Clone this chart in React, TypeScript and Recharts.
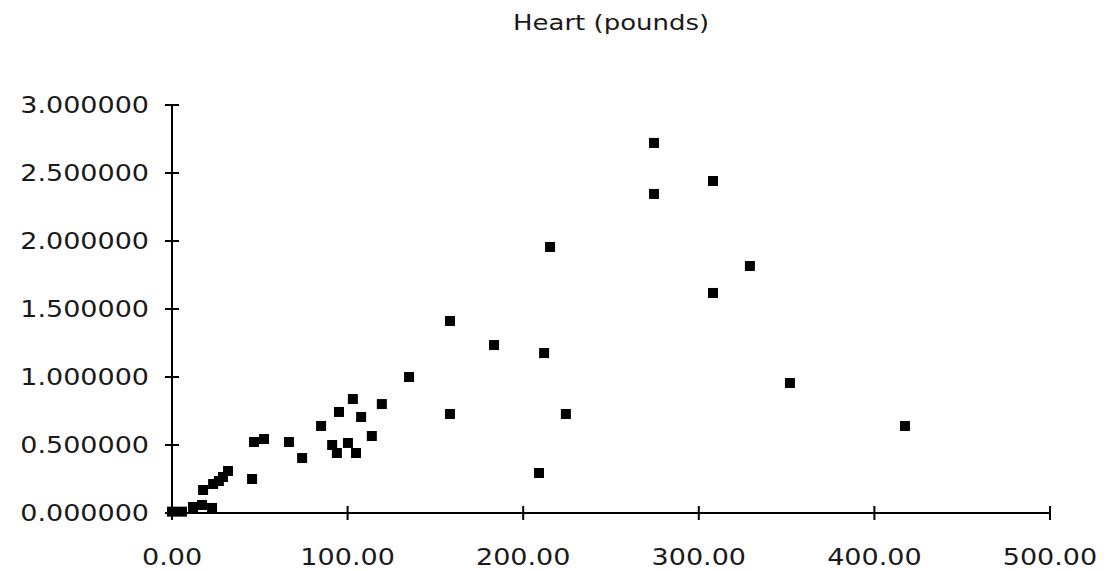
import React from "react";
import { ScatterChart, Scatter, XAxis, YAxis } from "recharts";

// heart weight (x) vs. ratio (y)
const heartX = [
  274.5, 274.5, 308.1, 215.3, 308.1, 329.1, 158.3, 183.4, 211.9, 135.0,
  351.9, 158.3, 224.3, 209.0, 417.4, 119.5, 103.0, 95.1, 107.7, 84.9,
  113.8, 66.6, 74.1, 93.9, 104.8, 46.7, 52.4, 45.6, 31.9, 17.7,
  91.2, 100.2, 23.4, 26.7, 29.0, 0.0, 5.7, 12.0, 17.1, 22.8,
];
const heartY = [
  2.721, 2.346, 2.441, 1.956, 1.618, 1.816, 1.412, 1.235, 1.176, 1.0,
  0.956, 0.728, 0.728, 0.294, 0.64, 0.801, 0.838, 0.743, 0.706, 0.64,
  0.566, 0.522, 0.404, 0.441, 0.441, 0.522, 0.544, 0.25, 0.309, 0.169,
  0.5, 0.515, 0.213, 0.235, 0.265, 0.01, 0.01, 0.044, 0.059, 0.037,
];
const xTicks = [0, 100, 200, 300, 400, 500];
const yTicks = [0, 0.5, 1, 1.5, 2, 2.5, 3];

const title = "Heart (pounds)";

const data = heartX.map((x, i) => ({ x, y: heartY[i] }));

const FONT = "'DejaVu Sans', Verdana, sans-serif";

const YTick = (props: any) => {
  const { x, y, payload } = props;
  return (
    <g>
      <line x1={x - 7} x2={x + 7} y1={y} y2={y} stroke="#000" strokeWidth={2} />
      <text
        transform={`translate(${x - 23},${y + 8}) scale(1.2,1)`}
        textAnchor="end"
        fontSize={22.5}
        fill="#1a1a1a"
        fontFamily={FONT}
      >
        {Number(payload.value).toFixed(6)}
      </text>
    </g>
  );
};

const XTick = (props: any) => {
  const { x, y, payload } = props;
  return (
    <g>
      <line x1={x} x2={x} y1={y - 7} y2={y + 7} stroke="#000" strokeWidth={2} />
      <text
        transform={`translate(${x},${y + 52}) scale(1.2,1)`}
        textAnchor="middle"
        fontSize={22.5}
        fill="#1a1a1a"
        fontFamily={FONT}
      >
        {Number(payload.value).toFixed(2)}
      </text>
    </g>
  );
};

const SquareDot = (props: any) => {
  const { cx, cy } = props;
  if (cx == null || cy == null) return null;
  return <rect x={cx - 5} y={cy - 5} width={10} height={10} fill="#000" />;
};

export default function App() {
  return (
    <div style={{ position: "absolute", left: 0, top: 0, width: 1111, height: 571, background: "#fff" }}>
      <div
        style={{
          position: "absolute",
          left: 0,
          width: 1222,
          top: 9,
          textAlign: "center",
          fontFamily: FONT,
          fontSize: 22,
          lineHeight: "28px",
          color: "#1a1a1a",
        }}
      >
        <span style={{ display: "inline-block", transform: "scale(1.18,1)" }}>{title}</span>
      </div>
      <ScatterChart width={1111} height={571} margin={{ top: 105, right: 61, bottom: 0, left: 0 }}>
        <XAxis
          type="number"
          dataKey="x"
          domain={[0, 500]}
          ticks={xTicks}
          height={58}
          tickSize={0}
          tickMargin={0}
          axisLine={{ stroke: "#000", strokeWidth: 2 }}
          tick={<XTick />}
          interval={0}
        />
        <YAxis
          type="number"
          dataKey="y"
          domain={[0, 3]}
          ticks={yTicks}
          width={172}
          tickSize={0}
          tickMargin={0}
          axisLine={{ stroke: "#000", strokeWidth: 2 }}
          tick={<YTick />}
          interval={0}
        />
        <Scatter data={data} shape={<SquareDot />} isAnimationActive={false} />
      </ScatterChart>
    </div>
  );
}
